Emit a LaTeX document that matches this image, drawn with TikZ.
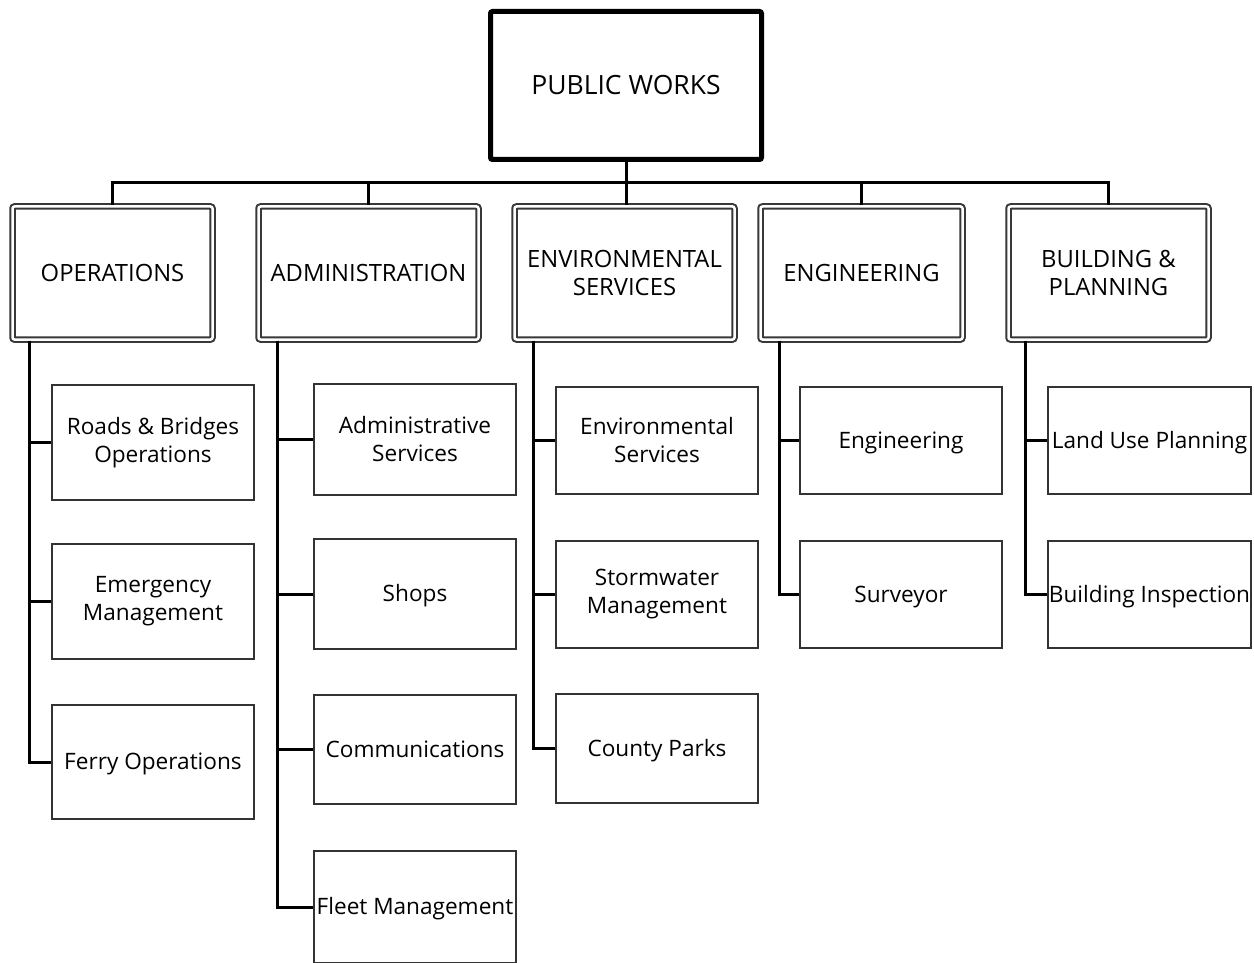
\documentclass[tikz,border=0pt]{standalone}
\usepackage{fontspec}
\setmainfont{Open Sans}
\begin{document}
\begin{tikzpicture}[x=1pt,y=-1pt,
  every node/.style={font=\fontsize{22.6}{28}\selectfont, text=black, align=center, inner sep=0pt},
  topbox/.style={draw=black, line width=5pt, rounded corners=2pt, minimum width=271pt, minimum height=148pt, font=\fontsize{26.5}{28}\selectfont, text height=19pt, text depth=1pt},
  deptbox/.style={draw=black!78, line width=2pt, double=white, double distance=2.5pt, rounded corners=2pt, minimum height=133pt, font=\fontsize{23.8}{28}\selectfont},
  unitbox/.style={draw=black!80, line width=2pt, minimum width=202pt},
  oneline/.style={text height=16.2pt, text depth=1pt},
  deptone/.style={text height=17pt, text depth=1pt},
  link/.style={line width=3pt, black},
]
\useasboundingbox[fill=white] (0,0) rectangle (1254,963);

\node[topbox] (pw) at (626,85.5) {PUBLIC WORKS};

\node[deptbox, deptone, minimum width=200pt] (ops) at (112.5,273) {OPERATIONS};
\node[deptbox, deptone, minimum width=220pt] (adm) at (368.5,273) {ADMINISTRATION};
\node[deptbox, minimum width=220pt] (env) at (624.5,273) {ENVIRONMENTAL\\SERVICES};
\node[deptbox, deptone, minimum width=202pt] (eng) at (861.5,273) {ENGINEERING};
\node[deptbox, minimum width=200pt] (bp) at (1108.5,273) {BUILDING \&\\PLANNING};

\node[unitbox, minimum height=115pt] (r1) at (153,442.5) {Roads \& Bridges\\Operations};
\node[unitbox, minimum height=115pt] (r2) at (153,601.5) {Emergency\\Management};
\node[unitbox, oneline, minimum height=114pt] (r3) at (153,762) {Ferry Operations};

\node[unitbox, minimum height=111pt] (a1) at (415,439.5) {Administrative\\Services};
\node[unitbox, oneline, minimum height=110pt] (a2) at (415,594) {Shops};
\node[unitbox, oneline, minimum height=109pt] (a3) at (415,749.5) {Communications};
\node[unitbox, oneline, minimum height=112pt] (a4) at (415,907) {Fleet Management};

\node[unitbox, minimum height=107pt] (e1) at (657,440.5) {Environmental\\Services};
\node[unitbox, minimum height=107pt] (e2) at (657,594.5) {Stormwater\\Management};
\node[unitbox, oneline, minimum height=109pt] (e3) at (657,748.5) {County Parks};

\node[unitbox, oneline, minimum height=107pt] (g1) at (901,440.5) {Engineering};
\node[unitbox, oneline, minimum height=107pt] (g2) at (901,594.5) {Surveyor};

\node[unitbox, oneline, minimum height=107pt, minimum width=203pt] (b1) at (1149.5,440.5) {Land Use Planning};
\node[unitbox, oneline, minimum height=107pt, minimum width=203pt] (b2) at (1149.5,594.5) {Building Inspection};

\coordinate (bus) at (625,183);
\draw[link] (pw.south) -- (pw.south |- env.north);
\draw[link] (ops.north) |- (bus) -| (bp.north);
\draw[link] (adm.north) -- (adm.north |- bus);
\draw[link] (eng.north) -- (eng.north |- bus);

\foreach \c in {r1,r2,r3} \draw[link] ([xshift=17.5pt]ops.south west) |- (\c.west);
\foreach \c in {a1,a2,a3,a4} \draw[link] ([xshift=19.5pt]adm.south west) |- (\c.west);
\foreach \c in {e1,e2,e3} \draw[link] ([xshift=19.5pt]env.south west) |- (\c.west);
\foreach \c in {g1,g2} \draw[link] ([xshift=19.5pt]eng.south west) |- (\c.west);
\foreach \c in {b1,b2} \draw[link] ([xshift=17.5pt]bp.south west) |- (\c.west);
\end{tikzpicture}
\end{document}
